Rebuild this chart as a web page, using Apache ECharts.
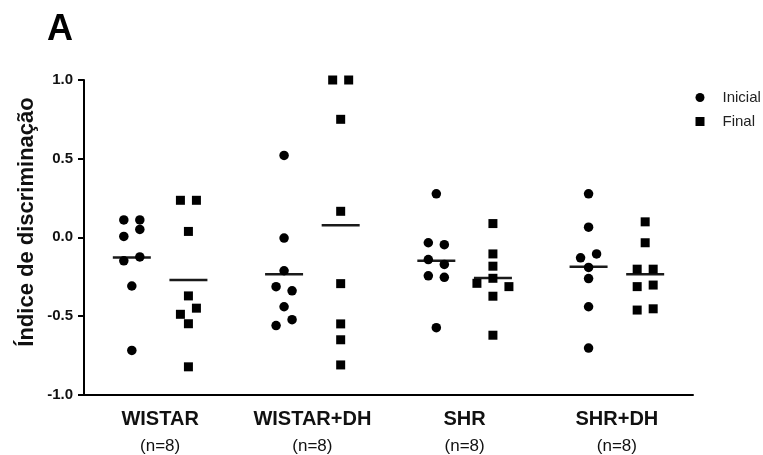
<!DOCTYPE html>
<html>
<head>
<meta charset="utf-8">
<script src="https://cdn.jsdelivr.net/npm/echarts@6/dist/echarts.min.js"></script>
<style>
  html, body { margin: 0; padding: 0; background: #fff; }
  #chart { width: 763px; height: 455px; }
</style>
</head>
<body>
<div id="chart"></div>
<script>
// Groups on the x axis and y-axis ticks
const categories = ['WISTAR', 'WISTAR+DH', 'SHR', 'SHR+DH'];
const yTicks = [-1.0, -0.5, 0.0, 0.5, 1.0];

// Discrimination index per animal (entry order), start of protocol
const wistarInicial   = [0.11, 0.11, 0.005, 0.05, -0.15, -0.125, -0.31, -0.72];
const wistarDhInicial = [0.52, -0.005, -0.213, -0.314, -0.341, -0.442, -0.562, -0.524];
const shrInicial      = [0.276, -0.035, -0.047, -0.142, -0.173, -0.245, -0.255, -0.575];
const shrDhInicial    = [0.276, 0.064, -0.131, -0.106, -0.192, -0.263, -0.442, -0.705];

// Discrimination index per animal (entry order), end of protocol
const wistarFinal   = [0.235, 0.235, 0.037, -0.373, -0.49, -0.451, -0.55, -0.824];
const wistarDhFinal = [1.0, 1.0, 0.75, 0.165, -0.295, -0.551, -0.652, -0.812];
const shrFinal      = [0.087, -0.106, -0.184, -0.293, -0.261, -0.314, -0.375, -0.623];
const shrDhFinal    = [0.098, -0.035, -0.203, -0.203, -0.314, -0.304, -0.463, -0.455];

const inicialGroups = [wistarInicial, wistarDhInicial, shrInicial, shrDhInicial];
const finalGroups = [wistarFinal, wistarDhFinal, shrFinal, shrDhFinal];

// Layout
const GRID = { left: 84, right: 70, top: 80, bottom: 58 };
const SIDE_PX = 28.3;      // distance of each column from the group centre
const ROW_GAP_PX = 8.5;    // points closer than this share a row
const SPREAD_PX = 16;      // horizontal spacing inside a row
const MEAN_WIDTH = 38;

const chart = echarts.init(document.getElementById('chart'), null, { renderer: 'canvas' });
const plotW = chart.getWidth() - GRID.left - GRID.right;
const plotH = chart.getHeight() - GRID.top - GRID.bottom;
const yMin = yTicks[0], yMax = yTicks[yTicks.length - 1];
const bandPx = plotW / categories.length;
const pxPerUnit = plotH / (yMax - yMin);

const mean = arr => arr.reduce((s, v) => s + v, 0) / arr.length;

// Simple column scatter: neighbours in value form rows, spread symmetrically in entry order
function swarmOffsets(values) {
  const order = values.map((_, i) => i).sort((a, b) => values[b] - values[a]);
  const rows = [];
  let row = [order[0]];
  for (let k = 1; k < order.length; k++) {
    const gap = (values[order[k - 1]] - values[order[k]]) * pxPerUnit;
    if (gap > ROW_GAP_PX) { rows.push(row); row = [order[k]]; }
    else row.push(order[k]);
  }
  rows.push(row);
  const offsets = new Array(values.length).fill(0);
  rows.forEach(r => {
    r.sort((a, b) => a - b);
    r.forEach((idx, k) => { offsets[idx] = (k - (r.length - 1) / 2) * SPREAD_PX; });
  });
  return offsets;
}

function columnPoints(groups, sidePx) {
  const pts = [];
  groups.forEach((vals, g) => {
    const offs = swarmOffsets(vals);
    vals.forEach((v, i) => {
      pts.push([g + 0.5 + (sidePx + offs[i]) / bandPx, v]);
    });
  });
  return pts;
}

function meanPoints(groups, sidePx) {
  return groups.map((vals, g) => [g + 0.5 + sidePx / bandPx, mean(vals)]);
}

const xLabels = categories.map((c, i) => '{a|' + c + '}\n{b|(n=' + inicialGroups[i].length + ')}');

const option = {
  backgroundColor: '#fff',
  animation: false,
  grid: GRID,
  graphic: [
    {
      type: 'text', left: 47, top: 12,
      style: { text: 'A', font: 'bold 36px "Liberation Sans", Arial, sans-serif', fill: '#000' }
    },
    {
      type: 'text', x: 27, y: 222, rotation: Math.PI / 2,
      style: {
        text: 'Índice de discriminação',
        font: 'bold 22px "Liberation Sans", Arial, sans-serif',
        fill: '#111', align: 'center', verticalAlign: 'middle'
      }
    }
  ],
  legend: {
    orient: 'vertical',
    left: 690.5, top: 85,
    itemWidth: 9, itemHeight: 9, itemGap: 9,
    data: [{ name: 'Inicial', icon: 'circle' }, { name: 'Final', icon: 'rect' }],
    itemStyle: { opacity: 1 },
    textStyle: {
      fontFamily: '"Liberation Sans", Arial, sans-serif',
      fontSize: 15, color: '#222', padding: [0, 0, 0, 13]
    },
    selectedMode: false
  },
  xAxis: [
    {
      type: 'category',
      data: xLabels,
      position: 'bottom',
      axisLine: { onZero: false, lineStyle: { color: '#000', width: 2 } },
      axisTick: { alignWithLabel: true, length: 6, lineStyle: { color: '#000', width: 2 } },
      axisLabel: {
        interval: 0, margin: 13, color: '#111',
        rich: {
          a: { fontFamily: '"Liberation Sans", Arial, sans-serif', fontWeight: 'bold', fontSize: 20, lineHeight: 24, color: '#111' },
          b: { fontFamily: '"Liberation Sans", Arial, sans-serif', fontSize: 17, lineHeight: 30, color: '#111' }
        }
      },
      splitLine: { show: false }
    },
    {
      type: 'value', min: 0, max: categories.length, show: false, position: 'bottom'
    }
  ],
  yAxis: {
    type: 'value',
    min: yMin, max: yMax, interval: yTicks[1] - yTicks[0],
    axisLine: { show: true, lineStyle: { color: '#000', width: 2 } },
    axisTick: { show: true, length: 6, lineStyle: { color: '#000', width: 2 } },
    axisLabel: {
      margin: 11, color: '#111',
      fontFamily: '"Liberation Sans", Arial, sans-serif', fontWeight: 'bold', fontSize: 15,
      formatter: v => v.toFixed(1)
    },
    splitLine: { show: false }
  },
  series: [
    {
      name: 'Inicial', type: 'scatter', xAxisIndex: 1, clip: false,
      symbol: 'circle', symbolSize: 9.5,
      itemStyle: { color: '#000', opacity: 1 }, z: 3,
      data: columnPoints(inicialGroups, -SIDE_PX)
    },
    {
      name: 'Final', type: 'scatter', xAxisIndex: 1, clip: false,
      symbol: 'rect', symbolSize: 9,
      itemStyle: { color: '#000', opacity: 1 }, z: 3,
      data: columnPoints(finalGroups, SIDE_PX)
    },
    {
      name: 'Média inicial', type: 'scatter', xAxisIndex: 1, clip: false,
      symbol: 'rect', symbolSize: [MEAN_WIDTH, 2.5],
      itemStyle: { color: '#1a1a1a', opacity: 1 }, z: 2, silent: true,
      data: meanPoints(inicialGroups, -SIDE_PX)
    },
    {
      name: 'Média final', type: 'scatter', xAxisIndex: 1, clip: false,
      symbol: 'rect', symbolSize: [MEAN_WIDTH, 2.5],
      itemStyle: { color: '#1a1a1a', opacity: 1 }, z: 2, silent: true,
      data: meanPoints(finalGroups, SIDE_PX)
    }
  ]
};

chart.setOption(option);
</script>
</body>
</html>
